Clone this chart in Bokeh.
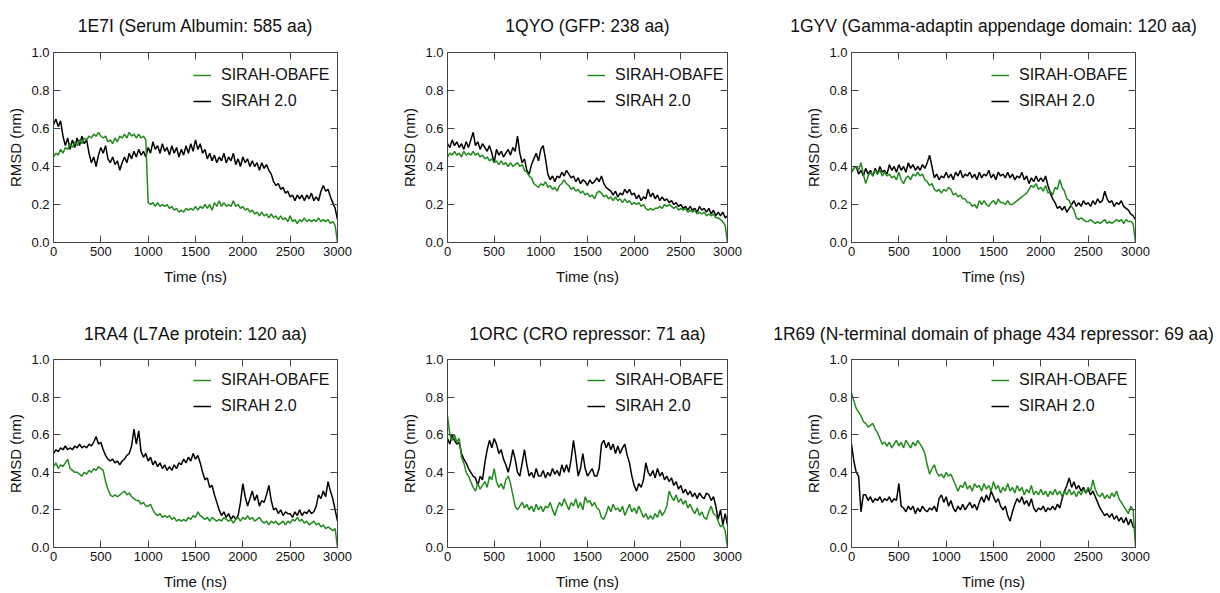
from bokeh.plotting import figure
from bokeh.layouts import column, row
from bokeh.models import (Range1d, LinearAxis, SingleIntervalTicker, PrintfTickFormatter,
                          Legend, LegendItem)
from bokeh.embed import file_html
from bokeh.resources import INLINE

FONT = "Liberation Sans"
GREEN = "#238a1e"
BLACK = "#000000"
AXC = "#444444"

titles = ["1E7I (Serum Albumin: 585 aa)",
          "1QYO (GFP: 238 aa)",
          "1GYV (Gamma-adaptin appendage domain: 120 aa)",
          "1RA4 (L7Ae protein: 120 aa)",
          "1ORC (CRO repressor: 71 aa)",
          "1R69 (N-terminal domain of phage 434 repressor: 69 aa)"]
series_names = ["SIRAH-OBAFE", "SIRAH 2.0"]
x_ticks_step = 500
y_ticks_step = 0.2
time_step_ns = 25  # sampling of the values

# ---- RMSD (nm), one value every 25 ns, 0..3000 ns ----
obafe_1E7I = [0.45,0.47,0.46,0.49,0.47,0.50,0.49,0.52,0.50,0.53,
              0.51,0.54,0.52,0.55,0.54,0.56,0.55,0.57,0.56,0.58,
              0.56,0.55,0.56,0.53,0.54,0.52,0.55,0.53,0.56,0.55,
              0.57,0.55,0.58,0.56,0.57,0.55,0.57,0.55,0.56,0.54,
              0.21,0.20,0.21,0.19,0.21,0.19,0.20,0.19,0.20,0.18,
              0.19,0.17,0.18,0.16,0.17,0.16,0.18,0.17,0.18,0.17,
              0.19,0.17,0.19,0.18,0.20,0.18,0.20,0.17,0.21,0.19,
              0.22,0.19,0.21,0.19,0.20,0.19,0.22,0.19,0.20,0.18,
              0.19,0.17,0.18,0.16,0.17,0.15,0.16,0.14,0.16,0.14,
              0.15,0.13,0.15,0.13,0.14,0.12,0.14,0.12,0.13,0.11,
              0.14,0.11,0.12,0.10,0.12,0.11,0.13,0.11,0.12,0.11,
              0.12,0.11,0.13,0.11,0.12,0.11,0.12,0.10,0.11,0.09,
              0.0]
sirah2_1E7I = [0.62,0.65,0.61,0.64,0.56,0.51,0.55,0.49,0.54,0.50,
               0.55,0.51,0.56,0.52,0.54,0.47,0.42,0.45,0.40,0.46,
               0.50,0.47,0.51,0.44,0.42,0.45,0.41,0.43,0.38,0.42,
               0.45,0.42,0.47,0.44,0.48,0.45,0.49,0.46,0.48,0.45,
               0.50,0.47,0.53,0.49,0.51,0.47,0.52,0.48,0.50,0.46,
               0.51,0.47,0.50,0.45,0.49,0.46,0.51,0.47,0.52,0.48,
               0.54,0.49,0.52,0.47,0.49,0.44,0.47,0.43,0.46,0.42,
               0.45,0.43,0.47,0.42,0.45,0.43,0.47,0.41,0.44,0.40,
               0.45,0.42,0.44,0.40,0.43,0.40,0.42,0.38,0.42,0.39,
               0.41,0.38,0.36,0.32,0.30,0.31,0.28,0.29,0.26,0.27,
               0.24,0.25,0.22,0.25,0.23,0.25,0.22,0.25,0.23,0.26,
               0.22,0.24,0.22,0.27,0.30,0.27,0.28,0.24,0.21,0.18,
               0.12]

obafe_1QYO = [0.45,0.47,0.46,0.48,0.46,0.47,0.45,0.48,0.46,0.47,
              0.46,0.48,0.46,0.47,0.45,0.46,0.44,0.45,0.43,0.44,
              0.42,0.43,0.41,0.43,0.41,0.42,0.40,0.42,0.40,0.41,
              0.42,0.40,0.41,0.38,0.37,0.35,0.34,0.31,0.30,0.29,
              0.31,0.30,0.32,0.29,0.30,0.28,0.29,0.27,0.30,0.31,
              0.33,0.31,0.30,0.28,0.29,0.27,0.28,0.26,0.27,0.25,
              0.26,0.24,0.25,0.23,0.26,0.27,0.26,0.24,0.25,0.23,
              0.24,0.22,0.24,0.22,0.23,0.21,0.23,0.21,0.22,0.20,
              0.21,0.20,0.21,0.19,0.20,0.18,0.17,0.18,0.17,0.18,
              0.18,0.19,0.18,0.20,0.19,0.20,0.19,0.18,0.19,0.17,
              0.18,0.17,0.18,0.16,0.17,0.16,0.17,0.15,0.16,0.15,
              0.16,0.14,0.15,0.14,0.15,0.13,0.13,0.12,0.11,0.09,
              0.0]
sirah2_1QYO = [0.52,0.50,0.54,0.51,0.53,0.50,0.52,0.49,0.53,0.50,
               0.54,0.58,0.51,0.53,0.49,0.52,0.50,0.48,0.51,0.47,
               0.42,0.49,0.46,0.48,0.45,0.47,0.49,0.46,0.50,0.48,
               0.56,0.47,0.42,0.44,0.38,0.36,0.41,0.44,0.47,0.43,
               0.49,0.51,0.44,0.36,0.33,0.35,0.32,0.35,0.34,0.37,
               0.35,0.38,0.36,0.34,0.35,0.32,0.34,0.31,0.33,0.32,
               0.30,0.33,0.31,0.32,0.34,0.32,0.35,0.31,0.29,0.28,
               0.27,0.25,0.27,0.24,0.26,0.25,0.28,0.26,0.28,0.25,
               0.26,0.23,0.25,0.22,0.24,0.23,0.28,0.24,0.26,0.23,
               0.25,0.22,0.24,0.22,0.23,0.21,0.22,0.20,0.21,0.19,
               0.20,0.18,0.19,0.17,0.19,0.17,0.18,0.16,0.19,0.17,
               0.18,0.16,0.18,0.15,0.17,0.14,0.16,0.14,0.16,0.13,
               0.14]

obafe_1GYV = [0.37,0.39,0.40,0.38,0.42,0.36,0.31,0.35,0.37,0.35,
              0.38,0.36,0.38,0.35,0.37,0.35,0.36,0.34,0.35,0.33,
              0.37,0.33,0.31,0.34,0.35,0.33,0.36,0.35,0.37,0.35,
              0.36,0.33,0.32,0.30,0.31,0.28,0.27,0.28,0.26,0.28,
              0.27,0.29,0.28,0.25,0.26,0.24,0.25,0.23,0.23,0.21,
              0.21,0.19,0.20,0.18,0.22,0.20,0.22,0.20,0.19,0.21,
              0.22,0.20,0.23,0.21,0.21,0.20,0.22,0.20,0.20,0.21,
              0.22,0.23,0.24,0.25,0.26,0.28,0.30,0.29,0.31,0.28,
              0.29,0.27,0.30,0.26,0.27,0.25,0.29,0.28,0.33,0.29,
              0.27,0.23,0.22,0.19,0.17,0.13,0.12,0.13,0.12,0.11,
              0.11,0.12,0.11,0.10,0.11,0.10,0.11,0.12,0.10,0.11,
              0.10,0.11,0.12,0.11,0.12,0.10,0.12,0.11,0.11,0.10,
              0.0]
sirah2_1GYV = [0.37,0.39,0.40,0.36,0.38,0.35,0.39,0.36,0.38,0.35,
               0.39,0.36,0.40,0.37,0.38,0.36,0.41,0.38,0.40,0.37,
               0.41,0.38,0.40,0.37,0.42,0.39,0.41,0.38,0.40,0.38,
               0.41,0.39,0.42,0.46,0.40,0.34,0.36,0.33,0.35,0.34,
               0.37,0.34,0.36,0.33,0.37,0.35,0.38,0.34,0.36,0.35,
               0.37,0.34,0.36,0.33,0.37,0.34,0.36,0.35,0.38,0.34,
               0.36,0.33,0.37,0.35,0.36,0.34,0.37,0.34,0.36,0.33,
               0.35,0.34,0.37,0.33,0.35,0.31,0.34,0.32,0.35,0.32,
               0.34,0.32,0.35,0.30,0.26,0.23,0.21,0.18,0.19,0.17,
               0.19,0.16,0.18,0.20,0.22,0.19,0.21,0.19,0.22,0.20,
               0.21,0.19,0.22,0.20,0.23,0.21,0.22,0.27,0.23,0.21,
               0.22,0.19,0.21,0.20,0.22,0.19,0.18,0.17,0.15,0.14,
               0.12]

obafe_1RA4 = [0.43,0.45,0.42,0.44,0.43,0.45,0.47,0.42,0.41,0.40,
              0.40,0.39,0.38,0.40,0.39,0.41,0.40,0.42,0.41,0.43,
              0.42,0.41,0.35,0.31,0.28,0.27,0.28,0.27,0.28,0.29,
              0.30,0.28,0.29,0.27,0.26,0.25,0.25,0.23,0.24,0.22,
              0.22,0.23,0.20,0.18,0.17,0.18,0.16,0.17,0.16,0.17,
              0.15,0.16,0.14,0.15,0.14,0.15,0.14,0.16,0.15,0.17,
              0.16,0.19,0.17,0.16,0.15,0.16,0.14,0.16,0.15,0.14,
              0.15,0.14,0.16,0.15,0.14,0.15,0.13,0.15,0.16,0.14,
              0.16,0.15,0.17,0.15,0.16,0.14,0.15,0.16,0.14,0.13,
              0.14,0.12,0.14,0.13,0.14,0.12,0.13,0.14,0.12,0.14,
              0.13,0.15,0.14,0.16,0.14,0.15,0.13,0.14,0.12,0.13,
              0.14,0.12,0.13,0.11,0.12,0.10,0.11,0.10,0.09,0.10,
              0.0]
sirah2_1RA4 = [0.50,0.52,0.51,0.53,0.52,0.54,0.52,0.53,0.52,0.54,
               0.53,0.55,0.53,0.54,0.53,0.55,0.54,0.56,0.59,0.55,
               0.56,0.52,0.49,0.47,0.46,0.47,0.45,0.46,0.44,0.46,
               0.47,0.49,0.50,0.54,0.63,0.55,0.62,0.51,0.48,0.50,
               0.46,0.48,0.44,0.46,0.43,0.45,0.42,0.44,0.41,0.43,
               0.41,0.44,0.42,0.45,0.44,0.47,0.45,0.48,0.46,0.50,
               0.47,0.49,0.45,0.40,0.36,0.37,0.32,0.33,0.28,0.24,
               0.20,0.17,0.19,0.16,0.18,0.15,0.17,0.15,0.17,0.24,
               0.34,0.27,0.22,0.26,0.30,0.25,0.28,0.22,0.25,0.24,
               0.28,0.33,0.25,0.20,0.21,0.18,0.20,0.17,0.19,0.18,
               0.18,0.16,0.19,0.17,0.20,0.17,0.19,0.18,0.20,0.18,
               0.19,0.22,0.28,0.26,0.30,0.27,0.35,0.30,0.26,0.20,
               0.14]

obafe_1ORC = [0.70,0.60,0.57,0.60,0.56,0.58,0.48,0.45,0.40,0.38,
              0.35,0.32,0.30,0.34,0.31,0.33,0.35,0.32,0.38,0.36,
              0.42,0.35,0.32,0.34,0.31,0.36,0.38,0.34,0.28,0.22,
              0.20,0.22,0.24,0.21,0.23,0.20,0.22,0.19,0.23,0.20,
              0.22,0.19,0.22,0.21,0.24,0.20,0.17,0.21,0.24,0.22,
              0.26,0.23,0.20,0.24,0.22,0.26,0.21,0.24,0.20,0.27,
              0.24,0.25,0.22,0.24,0.21,0.20,0.16,0.15,0.18,0.22,
              0.19,0.23,0.20,0.21,0.19,0.22,0.17,0.20,0.23,0.19,
              0.21,0.18,0.22,0.19,0.16,0.18,0.15,0.17,0.15,0.18,
              0.16,0.20,0.17,0.19,0.22,0.30,0.27,0.25,0.28,0.24,
              0.26,0.23,0.25,0.21,0.23,0.20,0.18,0.21,0.17,0.19,
              0.16,0.15,0.19,0.22,0.18,0.17,0.14,0.11,0.12,0.09,
              0.0]
sirah2_1ORC = [0.58,0.55,0.60,0.57,0.55,0.56,0.50,0.47,0.45,0.42,
               0.40,0.38,0.37,0.33,0.38,0.36,0.45,0.52,0.57,0.53,
               0.58,0.55,0.50,0.52,0.47,0.44,0.40,0.45,0.52,0.47,
               0.40,0.38,0.45,0.52,0.44,0.38,0.40,0.37,0.42,0.38,
               0.38,0.41,0.37,0.40,0.38,0.42,0.39,0.41,0.38,0.44,
               0.40,0.44,0.40,0.47,0.57,0.48,0.38,0.42,0.50,0.42,
               0.38,0.40,0.42,0.38,0.38,0.42,0.55,0.57,0.53,0.56,
               0.52,0.55,0.50,0.54,0.50,0.53,0.55,0.49,0.45,0.38,
               0.33,0.30,0.34,0.32,0.36,0.45,0.40,0.38,0.41,0.37,
               0.42,0.38,0.40,0.36,0.38,0.35,0.37,0.33,0.35,0.31,
               0.33,0.29,0.31,0.28,0.30,0.27,0.29,0.26,0.29,0.27,
               0.26,0.29,0.28,0.25,0.27,0.22,0.15,0.20,0.12,0.18,
               0.12]

obafe_1R69 = [0.82,0.78,0.74,0.72,0.70,0.67,0.66,0.64,0.65,0.66,
              0.63,0.61,0.58,0.55,0.56,0.54,0.56,0.53,0.55,0.57,
              0.54,0.56,0.53,0.57,0.55,0.53,0.56,0.54,0.57,0.55,
              0.53,0.50,0.44,0.39,0.42,0.44,0.40,0.38,0.39,0.37,
              0.40,0.38,0.39,0.36,0.33,0.30,0.33,0.32,0.35,0.31,
              0.33,0.30,0.34,0.32,0.33,0.30,0.34,0.31,0.33,0.30,
              0.35,0.31,0.33,0.29,0.32,0.30,0.34,0.30,0.32,0.29,
              0.33,0.30,0.32,0.28,0.31,0.29,0.33,0.28,0.30,0.28,
              0.31,0.28,0.30,0.27,0.30,0.28,0.31,0.28,0.30,0.27,
              0.30,0.28,0.31,0.28,0.30,0.27,0.30,0.28,0.31,0.29,
              0.32,0.30,0.36,0.31,0.28,0.27,0.29,0.26,0.28,0.26,
              0.29,0.27,0.30,0.26,0.24,0.22,0.20,0.18,0.22,0.20,
              0.0]
sirah2_1R69 = [0.55,0.46,0.40,0.38,0.19,0.28,0.28,0.25,0.27,0.24,
               0.26,0.25,0.27,0.24,0.26,0.25,0.27,0.24,0.26,0.25,
               0.34,0.22,0.21,0.19,0.22,0.20,0.22,0.18,0.21,0.19,
               0.22,0.20,0.19,0.21,0.20,0.22,0.19,0.26,0.28,0.24,
               0.27,0.22,0.25,0.21,0.19,0.22,0.20,0.23,0.20,0.22,
               0.24,0.21,0.23,0.20,0.24,0.27,0.24,0.28,0.25,0.30,
               0.27,0.24,0.26,0.22,0.20,0.22,0.17,0.14,0.19,0.23,
               0.26,0.24,0.27,0.23,0.25,0.22,0.26,0.21,0.19,0.21,
               0.20,0.22,0.19,0.21,0.20,0.22,0.20,0.23,0.21,0.26,
               0.30,0.33,0.37,0.32,0.35,0.31,0.33,0.30,0.32,0.29,
               0.31,0.28,0.30,0.27,0.24,0.21,0.19,0.17,0.18,0.16,
               0.18,0.15,0.17,0.14,0.16,0.13,0.16,0.12,0.15,0.11,
               0.10]

obafe_all = [obafe_1E7I, obafe_1QYO, obafe_1GYV, obafe_1RA4, obafe_1ORC, obafe_1R69]
sirah2_all = [sirah2_1E7I, sirah2_1QYO, sirah2_1GYV, sirah2_1RA4, sirah2_1ORC, sirah2_1R69]


def style_axis(ax, show_labels=True, label_standoff=3, tick_standoff=2):
    ax.axis_line_color = AXC
    ax.axis_line_width = 1
    ax.major_tick_line_color = AXC
    ax.major_tick_in = 7
    ax.major_tick_out = 0
    ax.minor_tick_line_color = None
    if show_labels:
        ax.major_label_text_font = FONT
        ax.major_label_text_font_size = "13px"
        ax.major_label_text_color = "#111111"
        ax.major_label_standoff = tick_standoff
        ax.axis_label_text_font = FONT
        ax.axis_label_text_font_size = "15px"
        ax.axis_label_text_font_style = "normal"
        ax.axis_label_text_color = "#111111"
        ax.axis_label_standoff = label_standoff
    else:
        ax.major_label_text_font_size = "0px"
        ax.major_label_text_color = None
        ax.major_label_standoff = 0


def make_panel(idx, width, height, bl, br, bt, bb, title_standoff):
    p = figure(width=width, height=height, output_backend="svg", toolbar_location=None,
               x_range=Range1d(0, 3000), y_range=Range1d(0, 1),
               min_border_left=bl, min_border_right=br, min_border_top=bt, min_border_bottom=bb,
               x_axis_label="Time (ns)", y_axis_label="RMSD (nm)")
    p.outline_line_color = None
    p.xgrid.visible = False
    p.ygrid.visible = False
    p.background_fill_color = "white"
    p.border_fill_color = "white"
    p.xaxis.ticker = SingleIntervalTicker(interval=x_ticks_step)
    p.yaxis.ticker = SingleIntervalTicker(interval=y_ticks_step)
    p.yaxis.formatter = PrintfTickFormatter(format="%.1f")
    style_axis(p.xaxis[0], True, 9, 0)
    style_axis(p.yaxis[0], True, 4, 0)
    top = LinearAxis(ticker=SingleIntervalTicker(interval=x_ticks_step))
    right = LinearAxis(ticker=SingleIntervalTicker(interval=y_ticks_step))
    style_axis(top, False)
    style_axis(right, False)
    p.add_layout(top, "above")
    p.add_layout(right, "right")

    p.title.text = titles[idx]
    p.title.align = "center"
    p.title.text_font = FONT
    p.title.text_font_size = "17.5px"
    p.title.text_font_style = "normal"
    p.title.text_color = "#111111"
    p.title.standoff = title_standoff

    b_vals = sirah2_all[idx]
    g_vals = obafe_all[idx]
    tb = [time_step_ns * i for i in range(len(b_vals))]
    tg = [time_step_ns * i for i in range(len(g_vals))]
    rb = p.line(tb, b_vals, line_color=BLACK, line_width=1.5)
    rg = p.line(tg, g_vals, line_color=GREEN, line_width=1.5)

    leg = Legend(items=[LegendItem(label=series_names[0], renderers=[rg]),
                        LegendItem(label=series_names[1], renderers=[rb])],
                 location=(140, 131), border_line_color=None, background_fill_alpha=0,
                 label_text_font=FONT, label_text_font_size="16px", label_text_color="#111111",
                 glyph_width=18, glyph_height=20, label_height=20, spacing=6,
                 padding=7, margin=0, label_standoff=10)
    p.add_layout(leg)
    return p


# layout geometry (pixels); the page has no body margin
H1, H2 = 288, 304
panels = [
    make_panel(0, 398, H1, 53, 61, 52, 46, 26),
    make_panel(1, 370, H1, 45, 41, 52, 46, 26),
    make_panel(2, 451, H1, 83, 84, 52, 46, 26),
    make_panel(3, 398, H2, 53, 61, 71, 43, 24),
    make_panel(4, 370, H2, 45, 41, 71, 43, 24),
    make_panel(5, 451, H2, 83, 84, 71, 43, 24),
]

layout = column(row(*panels[:3], spacing=0), row(*panels[3:], spacing=0), spacing=0)

open("out.html", "w").write(file_html(layout, INLINE))
